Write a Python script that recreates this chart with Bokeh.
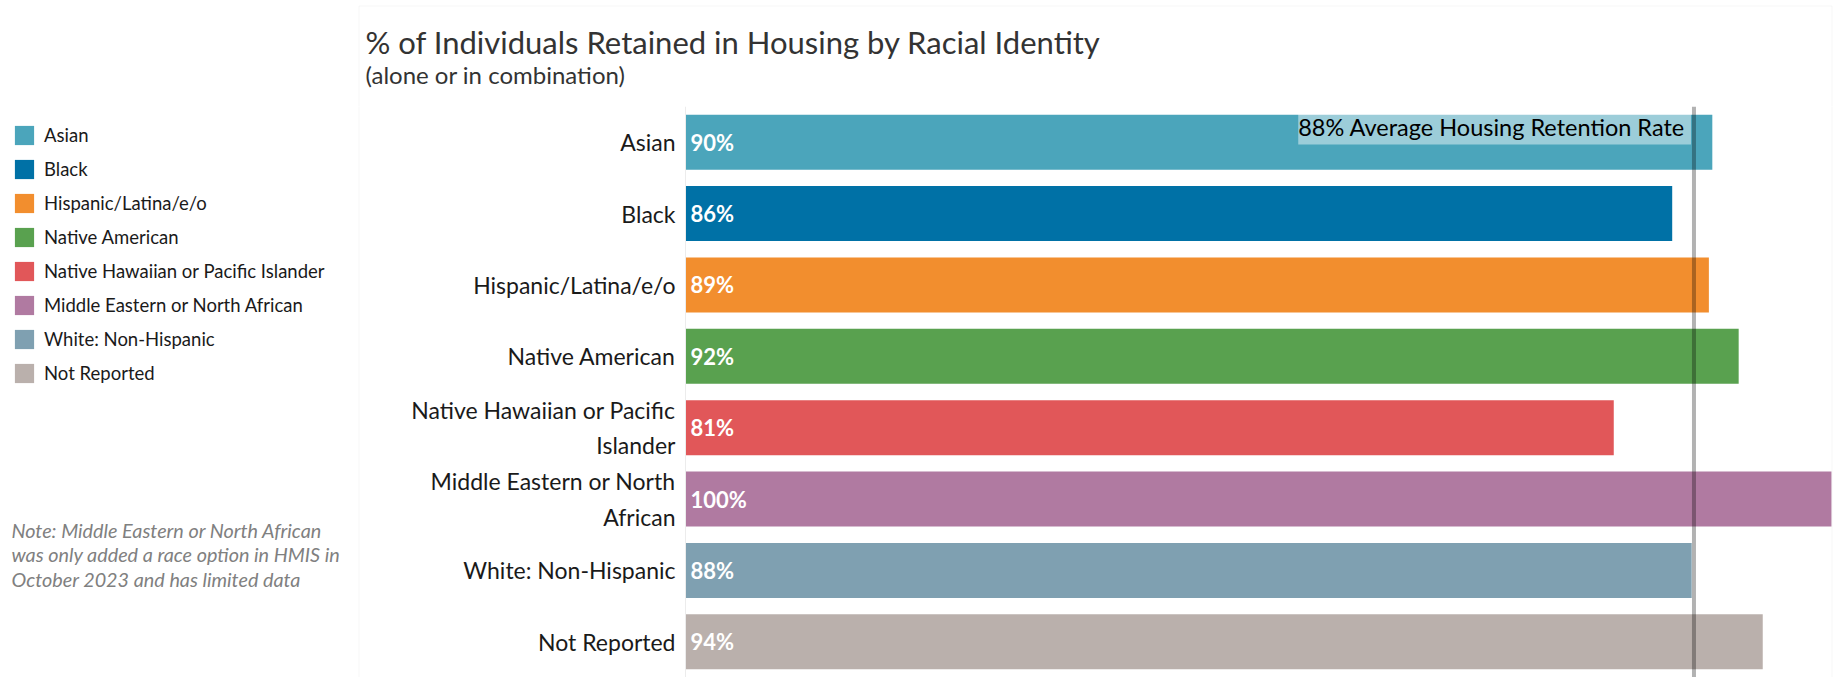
from bokeh.plotting import figure
from bokeh.layouts import column
from bokeh.models import (ColumnDataSource, FactorRange, Range1d, Span, Label,
                          Legend, LegendItem, BoxAnnotation)
from bokeh.core.properties import value
from bokeh.embed import file_html
from bokeh.resources import INLINE

# ---------------- data ----------------
categories = ["Asian", "Black", "Hispanic/Latina/e/o", "Native American",
              "Native Hawaiian or Pacific Islander", "Middle Eastern or North African",
              "White: Non-Hispanic", "Not Reported"]
axis_labels = ["Asian", "Black", "Hispanic/Latina/e/o", "Native American",
               "Native Hawaiian or Pacific\nIslander", "Middle Eastern or North\nAfrican",
               "White: Non-Hispanic", "Not Reported"]
retention_pct = [89.6, 86.1, 89.3, 91.9, 81.0, 100.0, 87.8, 94.0]
bar_colors = ["#4BA5BB", "#0071A6", "#F28E2E", "#59A14F",
              "#E15759", "#B07AA1", "#7FA0B1", "#BAB0AC"]
average_pct = 88
title_text = "% of Individuals Retained in Housing by Racial Identity"
subtitle_text = "(alone or in combination)"
avg_text = "88% Average Housing Retention Rate"
note_lines = ["Note: Middle Eastern or North African",
              "was only added a race option in HMIS in",
              "October 2023 and has limited data"]

# ---------------- layout constants ----------------
FONT = "Lato"
W, H = 1833, 677
HEADER_H = 106
MAIN_H = H - HEADER_H
PLOT_LEFT_PX, PLOT_RIGHT_PX = 685, 1831          # where 0 % and 100 % sit
px_per_unit = (PLOT_RIGHT_PX - PLOT_LEFT_PX) / 100.0
x_start = -PLOT_LEFT_PX / px_per_unit
x_end = (W - PLOT_LEFT_PX) / px_per_unit
BORDER_L, BORDER_R, BORDER_T = 358.5, 1831.5, 5.5
BORDER_COLOR = "#e0e0e0"


def bare(fig):
    fig.outline_line_color = None
    fig.xgrid.visible = False
    fig.ygrid.visible = False
    fig.background_fill_color = "white"
    fig.border_fill_color = "white"
    fig.min_border_left = fig.min_border_right = 0
    fig.min_border_top = fig.min_border_bottom = 0


# ---------------- header (title + subtitle) ----------------
hdr = figure(width=W, height=HEADER_H, x_range=Range1d(0, W), y_range=Range1d(0, HEADER_H),
             x_axis_location=None, y_axis_location=None,
             output_backend="svg", toolbar_location=None)
bare(hdr)
hdr.add_layout(BoxAnnotation(left=BORDER_L, right=BORDER_R, top=HEADER_H - BORDER_T, bottom=-20,
                             left_units="screen", right_units="screen",
                             top_units="screen", bottom_units="screen",
                             fill_alpha=0, line_color=BORDER_COLOR, line_width=1))
hdr.add_layout(Label(x=365, y=HEADER_H - 41, x_units="screen", y_units="screen", text=title_text,
                     text_font=FONT, text_font_size="31px", text_color="#333333",
                     text_baseline="alphabetic"))
hdr.add_layout(Label(x=365, y=HEADER_H - 74, x_units="screen", y_units="screen", text=subtitle_text,
                     text_font=FONT, text_font_size="24px", text_color="#333333",
                     text_baseline="alphabetic"))

# ---------------- main chart ----------------
value_labels = [f"{round(v)}%" for v in retention_pct]
source = ColumnDataSource(dict(y=axis_labels, pct=retention_pct, color=bar_colors,
                               label=value_labels, zero=[0] * len(axis_labels)))

p = figure(width=W, height=MAIN_H,
           y_range=FactorRange(factors=axis_labels[::-1], range_padding=0),
           x_range=Range1d(x_start, x_end),
           x_axis_location=None, y_axis_location=None,
           output_backend="svg", toolbar_location=None)
bare(p)

# panel side borders
p.add_layout(BoxAnnotation(left=BORDER_L, right=BORDER_R, top=MAIN_H + 20, bottom=-20,
                           left_units="screen", right_units="screen",
                           top_units="screen", bottom_units="screen",
                           fill_alpha=0, line_color=BORDER_COLOR, line_width=1))
# faint axis line at 0
p.add_layout(Span(location=0, dimension="height", line_color="#ececec", line_width=1))

bars = p.hbar(y="y", left=0, right="pct", height=0.77, source=source,
              fill_color="color", line_color=None)

# value labels inside bars
p.text(x="zero", y="y", text="label", source=source, x_offset=5,
       text_baseline="middle", text_align="left", text_color="white",
       text_font=value(FONT), text_font_style="bold", text_font_size="22px")

# category labels
p.text(x="zero", y="y", text="y", source=source, x_offset=-10,
       text_baseline="middle", text_align="right", text_color="#1a1a1a",
       text_font=value(FONT), text_font_size="23px", text_line_height=1.26)

# average line + label
p.add_layout(Span(location=average_pct, dimension="height", line_color="black",
                  line_alpha=0.3, line_width=4))
p.add_layout(Label(x=average_pct, y=MAIN_H - (115 - HEADER_H) + 3, x_units="data", y_units="screen",
                   text=avg_text, text_align="right", text_baseline="top",
                   x_offset=-3, text_font=FONT, text_font_size="23.5px",
                   text_color="black", background_fill_color="white",
                   background_fill_alpha=0.45, padding=(0, 6, 0, 4)))

# note
for i, line in enumerate(note_lines):
    p.add_layout(Label(x=11, y=H - 529 - i * 24.5, x_units="screen", y_units="screen",
                       text=line, text_font=FONT, text_font_size="19.8px",
                       text_font_style="italic", text_color="#808080",
                       text_baseline="alphabetic"))

# legend
items = [LegendItem(label=c, renderers=[bars], index=i) for i, c in enumerate(categories)]
legend = Legend(items=items, location=(12, H - 385), glyph_width=24, glyph_height=24,
                spacing=10, label_standoff=8, padding=0, margin=0,
                border_line_color=None, background_fill_alpha=0,
                label_text_font=FONT, label_text_font_size="18.5px",
                label_text_color="#1a1a1a")
p.add_layout(legend)

layout = column(hdr, p, spacing=0)
open("out.html", "w").write(file_html(layout, INLINE))
